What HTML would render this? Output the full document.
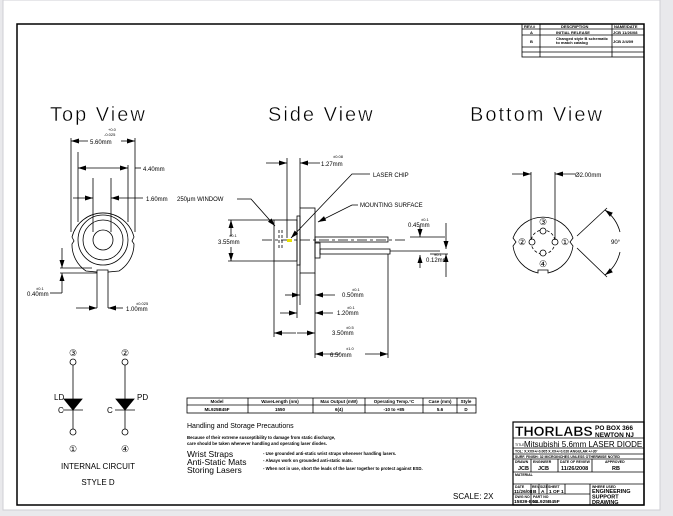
<!DOCTYPE html>
<html><head><meta charset="utf-8"><style>
html,body{margin:0;padding:0;background:#e9e9ec;width:673px;height:516px;overflow:hidden}
svg{display:block}
text{font-family:"Liberation Sans",sans-serif;fill:#000}
</style></head><body>
<svg width="673" height="516" viewBox="0 0 673 516" xmlns="http://www.w3.org/2000/svg">
<defs>
<marker id="a" markerWidth="8" markerHeight="6" refX="8" refY="3" orient="auto" markerUnits="userSpaceOnUse"><path d="M0,0.5 L8,3 L0,5.5z" fill="#000"/></marker>
</defs>
<rect x="0" y="0" width="673" height="516" fill="#e9e9ec"/>
<rect x="3" y="0" width="657" height="510" fill="#fff" stroke="#cfcfd4" stroke-width="1"/>
<rect x="17" y="24" width="627" height="481" fill="none" stroke="#000" stroke-width="1.5"/>
<g stroke="#000" stroke-width="0.8" fill="none">
<rect x="522" y="24" width="122" height="33"/>
<line x1="522" y1="29" x2="644" y2="29"/><line x1="522" y1="35" x2="644" y2="35"/><line x1="522" y1="47" x2="644" y2="47"/><line x1="522" y1="52" x2="644" y2="52"/>
<line x1="540" y1="24" x2="540" y2="57"/><line x1="612" y1="24" x2="612" y2="57"/>
</g>
<g font-size="4" font-weight="bold">
<text x="524" y="28">REV.#</text><text x="561" y="28">DESCRIPTION</text><text x="614" y="28">NAME/DATE</text>
<text x="530" y="34">A</text><text x="556" y="34">INITIAL RELEASE</text><text x="613" y="34">JCB 11/26/08</text>
<text x="530" y="43">B</text><text x="556" y="40">Changed style B schematic</text><text x="556" y="44">to match catalog</text><text x="613" y="43">JCB 2/4/09</text>
</g>
<g font-size="20" letter-spacing="2" stroke="#fff" stroke-width="0.4">
<text x="50" y="121">Top View</text><text x="268" y="121">Side View</text><text x="470" y="121">Bottom View</text>
</g>
<g stroke="#000" stroke-width="0.8" fill="none">
<path d="M86,271 A32,32 0 0 1 72,244 L74,241 L72,237 A32,32 0 0 1 134,237 L132,241 L134,244 A32,32 0 0 1 119,271 L108,272 L108,270 L97,270 L97,272 Z"/>
<circle cx="103" cy="240" r="25"/><circle cx="103" cy="240" r="20"/><circle cx="103" cy="240" r="10"/>
<line x1="97" y1="272" x2="97" y2="308"/><line x1="108" y1="272" x2="108" y2="308"/>
<line x1="71" y1="138" x2="71" y2="232"/><line x1="135" y1="138" x2="135" y2="232"/>
<line x1="78" y1="152" x2="78" y2="222"/><line x1="128" y1="165" x2="128" y2="222"/><line x1="135" y1="168" x2="141" y2="168"/>
<line x1="93" y1="178" x2="93" y2="232"/><line x1="111" y1="178" x2="111" y2="232"/>
<line x1="60" y1="268" x2="92" y2="268"/><line x1="60" y1="273" x2="97" y2="273"/>
<line x1="62" y1="248" x2="62" y2="268" marker-end="url(#a)"/><line x1="62" y1="293" x2="62" y2="273" marker-end="url(#a)"/><line x1="50" y1="293" x2="62" y2="293"/>
<line x1="76" y1="308" x2="97" y2="308" marker-end="url(#a)"/><line x1="123" y1="308" x2="108" y2="308" marker-end="url(#a)"/>
<line x1="88" y1="141" x2="71" y2="141" marker-end="url(#a)"/><line x1="121" y1="141" x2="135" y2="141" marker-end="url(#a)"/>
<line x1="103" y1="168" x2="78" y2="168" marker-end="url(#a)"/><line x1="103" y1="168" x2="128" y2="168" marker-end="url(#a)"/>
<line x1="73" y1="198" x2="93" y2="198" marker-end="url(#a)"/><line x1="143" y1="198" x2="111" y2="198" marker-end="url(#a)"/>
<rect x="274" y="220" width="23" height="41"/>
<rect x="297" y="216" width="3" height="49"/>
<rect x="300" y="208" width="15" height="65"/>
<rect x="315" y="243" width="5" height="15"/>
<rect x="315" y="237" width="73" height="5"/>
<rect x="320" y="249" width="70" height="5"/>
<line x1="262" y1="240" x2="405" y2="240" stroke-dasharray="10,3,3,3"/>
<line x1="390" y1="251" x2="440" y2="251"/>
<line x1="279" y1="230" x2="279" y2="250" stroke-dasharray="3,2"/><line x1="282" y1="230" x2="282" y2="250" stroke-dasharray="3,2"/>
<line x1="228" y1="220" x2="274" y2="220"/><line x1="228" y1="261" x2="274" y2="261"/>
<line x1="231" y1="236" x2="231" y2="220" marker-end="url(#a)"/><line x1="231" y1="247" x2="231" y2="261" marker-end="url(#a)"/>
<line x1="287" y1="158" x2="287" y2="238"/><line x1="300" y1="158" x2="300" y2="208"/>
<line x1="266" y1="163" x2="287" y2="163" marker-end="url(#a)"/><line x1="320" y1="163" x2="300" y2="163" marker-end="url(#a)"/>
<polyline points="370,174 352,174 291,238" marker-end="url(#a)"/>
<polyline points="358,205 352,205 318,222" marker-end="url(#a)"/>
<polyline points="237,199 251,199 275,226" marker-end="url(#a)"/>
<line x1="420" y1="226" x2="420" y2="237" marker-end="url(#a)"/><line x1="420" y1="268" x2="420" y2="255" marker-end="url(#a)"/>
<line x1="410" y1="237" x2="445" y2="237"/>
<line x1="446" y1="223" x2="446" y2="249" marker-end="url(#a)"/><line x1="446" y1="277" x2="446" y2="254" marker-end="url(#a)"/>
<line x1="430" y1="254" x2="448" y2="254"/>
<line x1="300" y1="273" x2="300" y2="305"/><line x1="315" y1="273" x2="315" y2="358"/><line x1="274" y1="261" x2="274" y2="337"/><line x1="388" y1="254" x2="388" y2="358"/><line x1="297" y1="265" x2="297" y2="318"/>
<line x1="285" y1="295" x2="300" y2="295" marker-end="url(#a)"/><line x1="335" y1="295" x2="315" y2="295" marker-end="url(#a)"/>
<line x1="280" y1="313" x2="297" y2="313" marker-end="url(#a)"/><line x1="333" y1="313" x2="315" y2="313" marker-end="url(#a)"/>
<line x1="296" y1="333" x2="274" y2="333" marker-end="url(#a)"/><line x1="297" y1="333" x2="315" y2="333" marker-end="url(#a)"/>
<line x1="340" y1="354" x2="315" y2="354" marker-end="url(#a)"/><line x1="365" y1="354" x2="388" y2="354" marker-end="url(#a)"/>
<path d="M538,273 A32,32 0 0 1 513,246 L516,242 L513,238 A32,32 0 0 1 573,238 L570,242 L573,246 A32,32 0 0 1 548,273 L548,270 L538,270 Z"/>
<circle cx="543" cy="242" r="12" stroke-dasharray="3,2"/>
<circle cx="532" cy="242" r="3" fill="#fff"/><circle cx="555" cy="242" r="3" fill="#fff"/><circle cx="543" cy="231" r="3" fill="#fff"/><circle cx="543" cy="253" r="3" fill="#fff"/>
<line x1="531" y1="172" x2="531" y2="240"/><line x1="555" y1="172" x2="555" y2="240"/>
<line x1="512" y1="174" x2="531" y2="174" marker-end="url(#a)"/><line x1="575" y1="174" x2="555" y2="174" marker-end="url(#a)"/>
<line x1="577" y1="236" x2="607" y2="208"/><line x1="577" y1="248" x2="607" y2="277"/>
<path d="M620,232 A40,40 0 0 0 605,210" marker-end="url(#a)"/><path d="M620,252 A40,40 0 0 1 605,275" marker-end="url(#a)"/>
<circle cx="73" cy="362" r="3"/><line x1="73" y1="365" x2="73" y2="429"/><circle cx="73" cy="432" r="3"/>
<path d="M64,399 L82,399 L73,410z" fill="#000"/><line x1="63" y1="410" x2="83" y2="410"/>
<circle cx="125" cy="362" r="3"/><line x1="125" y1="365" x2="125" y2="429"/><circle cx="125" cy="432" r="3"/>
<path d="M116,399 L134,399 L125,410z" fill="#000"/><line x1="115" y1="410" x2="135" y2="410"/>
<rect x="187" y="398" width="289" height="15"/><line x1="187" y1="405" x2="476" y2="405"/>
<line x1="248" y1="398" x2="248" y2="413"/><line x1="313" y1="398" x2="313" y2="413"/><line x1="365" y1="398" x2="365" y2="413"/><line x1="423" y1="398" x2="423" y2="413"/><line x1="457" y1="398" x2="457" y2="413"/>
</g>
<g font-size="9" text-anchor="middle">
<text x="73" y="356">③</text><text x="73" y="452">①</text><text x="125" y="356">②</text><text x="125" y="452">④</text>
<text x="543" y="225">③</text><text x="543" y="267">④</text><text x="522" y="245">②</text><text x="565" y="245">①</text>
</g>
<g font-size="6">
<text x="90" y="144">5.60mm</text><text x="143" y="171">4.40mm</text><text x="146" y="201">1.60mm</text>
<text x="27" y="296">0.40mm</text><text x="126" y="311">1.00mm</text>
<text x="177" y="201">250μm WINDOW</text><text x="218" y="244">3.55mm</text>
<text x="321" y="166">1.27mm</text><text x="373" y="177">LASER CHIP</text><text x="360" y="207">MOUNTING SURFACE</text>
<text x="408" y="227">0.45mm</text><text x="426" y="262">0.12mm</text>
<text x="342" y="297">0.50mm</text><text x="337" y="315">1.20mm</text><text x="332" y="335">3.50mm</text><text x="330" y="357">6.50mm</text>
<text x="575" y="177">Ø2.00mm</text><text x="611" y="244">90°</text>
</g>
<g font-size="4">
<text x="108" y="131">+0.0</text><text x="104" y="136">-0.025</text>
<text x="36" y="290">±0.1</text><text x="136" y="305">±0.025</text><text x="229" y="237">±0.1</text>
<text x="333" y="158">±0.08</text><text x="421" y="221">±0.1</text><text x="434" y="256">±0.1</text>
<text x="352" y="291">±0.1</text><text x="347" y="309">±0.1</text><text x="346" y="329">±0.5</text><text x="346" y="350">±1.0</text>
</g>
<g font-size="8">
<text x="54" y="400">LD</text><text x="58" y="413">C</text><text x="137" y="400">PD</text><text x="107" y="413">C</text>
<text x="98" y="469" text-anchor="middle">INTERNAL CIRCUIT</text><text x="98" y="485" text-anchor="middle">STYLE D</text>
<text x="453" y="499">SCALE: 2X</text>
</g>
<g font-size="4.5" font-weight="bold" text-anchor="middle">
<text x="217" y="403">Model</text><text x="280" y="403">WaveLength (nm)</text><text x="339" y="403">Max Output (mW)</text><text x="394" y="403">Operating Temp.°C</text><text x="440" y="403">Case (mm)</text><text x="466" y="403">Style</text>
<text x="217" y="411">ML925B45F</text><text x="280" y="411">1550</text><text x="339" y="411">6(4)</text><text x="394" y="411">-10 to +85</text><text x="440" y="411">5.6</text><text x="466" y="411">D</text>
</g>
<text x="187" y="428" font-size="7">Handling and Storage Precautions</text>
<g font-size="4.3" font-weight="bold">
<text x="187" y="439">Because of their extreme susceptibility to damage from static discharge,</text>
<text x="187" y="445">care should be taken whenever handling and operating laser diodes.</text>
<text x="263" y="455">- Use grounded anti-static wrist straps whenever handling lasers.</text>
<text x="263" y="462">- Always work on grounded anti-static mats.</text>
<text x="263" y="470">- When not in use, short the leads of the laser together to protect against ESD.</text>
</g>
<g font-size="8.5"><text x="187" y="457">Wrist Straps</text><text x="187" y="465">Anti-Static Mats</text><text x="187" y="473">Storing Lasers</text></g>
<g stroke="#000" stroke-width="0.8" fill="none">
<rect x="513" y="422" width="131" height="83" stroke-width="1.2"/>
<line x1="513" y1="438" x2="644" y2="438"/><line x1="513" y1="448" x2="644" y2="448"/><line x1="513" y1="454" x2="644" y2="454"/><line x1="513" y1="459" x2="644" y2="459"/><line x1="513" y1="472" x2="644" y2="472"/><line x1="513" y1="484" x2="644" y2="484"/>
<line x1="531" y1="459" x2="531" y2="472"/><line x1="558" y1="459" x2="558" y2="472"/><line x1="592" y1="459" x2="592" y2="472"/>
<line x1="513" y1="494" x2="590" y2="494"/><line x1="531" y1="484" x2="531" y2="505"/><line x1="539" y1="484" x2="539" y2="494"/><line x1="547" y1="484" x2="547" y2="494"/><line x1="565" y1="484" x2="565" y2="494"/><line x1="590" y1="484" x2="590" y2="505"/>
</g>
<text x="515" y="436" font-size="14" font-weight="bold" stroke="#fff" stroke-width="0.3">THORLABS</text>
<g font-size="6.5" font-weight="bold"><text x="595" y="430">PO BOX 366</text><text x="595" y="437">NEWTON NJ</text></g>
<text x="515" y="446" font-size="3.5">TITLE</text><text x="524" y="447" font-size="8">Mitsubishi 5.6mm LASER DIODE</text>
<g font-size="3.5" font-weight="bold">
<text x="515" y="452.5">TOL: X.XXX+/-0.005 X.XX+/-0.020 ANGULAR +/-30'</text>
<text x="515" y="458">SURF. FINISH: 32 MICROINCHES UNLESS OTHERWISE NOTED</text>
<text x="515" y="463">DRAWN</text><text x="533" y="463">ENGINEER</text><text x="560" y="463">DATE OF REVIEW</text><text x="605" y="463">APPROVED</text>
<text x="515" y="476">MATERIAL</text><text x="515" y="488">DATE</text><text x="532" y="488">REV</text><text x="540" y="488">SIZE</text><text x="548" y="488">SHEET</text><text x="592" y="488">WHERE USED</text>
<text x="515" y="498">DWG NO</text><text x="533" y="498">PART NO</text>
</g>
<g font-size="5.5" font-weight="bold">
<text x="518" y="470">JCB</text><text x="538" y="470">JCB</text><text x="561" y="470">11/26/2008</text><text x="612" y="470">RB</text>
</g>
<g font-size="4.8" font-weight="bold">
<text x="514" y="493">11/26/08</text><text x="533" y="493">B</text><text x="541" y="493">A</text><text x="549" y="493">1 OF 1</text>
<text x="514" y="503">15839-E01</text><text x="533" y="503">ML925B45F</text>
</g>
<g font-size="5.5" font-weight="bold">
<text x="592" y="493">ENGINEERING</text><text x="592" y="498.5">SUPPORT</text><text x="592" y="504">DRAWING</text>
</g>
<rect x="287" y="239" width="5" height="3" fill="#e8e000"/>
</svg>
</body></html>
